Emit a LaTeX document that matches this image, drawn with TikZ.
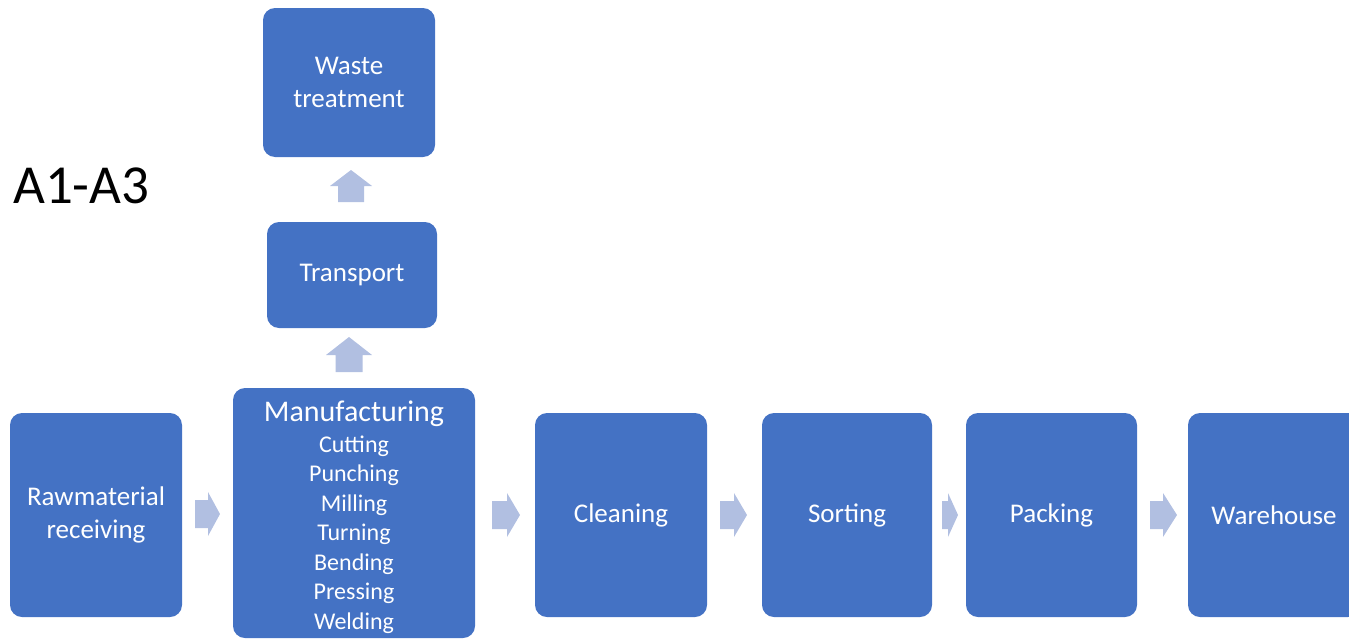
\documentclass[tikz,border=0pt]{standalone}
\usepackage{fontspec}
\setmainfont{Carlito}
\definecolor{boxblue}{HTML}{4472C4}
\definecolor{arrowblue}{HTML}{B1BFE1}
\newcommand{\harrowshape}[5]{% name, x1, xh, x2, yc
  \fill[arrowblue] (#2,#5-14) -- (#3,#5-14) -- (#3,#5-22) -- (#4,#5) -- (#3,#5+22) -- (#3,#5+14) -- (#2,#5+14) -- cycle;
  \coordinate (#1) at ({(#2+#4)/2},#5);}
\newcommand{\varrowshape}[7]{% name, xc, half head, half shaft, ytip, ybase, ybottom
  \fill[arrowblue] (#2-#4,#7) -- (#2-#4,#6) -- (#2-#3,#6) -- (#2,#5) -- (#2+#3,#6) -- (#2+#4,#6) -- (#2+#4,#7) -- cycle;
  \coordinate (#1) at (#2,{(#5+#7)/2});}
\tikzset{
  procbox/.style={fill=boxblue, rounded corners=12pt, text=white, align=center,
    font=\fontsize{27}{33}\selectfont, inner sep=0pt},
}
\begin{document}
\begin{tikzpicture}[x=1pt,y=-1pt]
\useasboundingbox (0,0) rectangle (1349,640);
\begin{scope}
\clip (0,0) rectangle (1349,640);
\node[procbox, minimum width=172pt, minimum height=204pt] (raw) at (96,515) {Rawmaterial\\receiving};
\node[procbox, minimum width=242pt, minimum height=250pt] (man) at (354,513) {};
\node[procbox, minimum width=172pt, minimum height=204pt] (clean) at (621,515) {Cleaning};
\node[procbox, minimum width=170pt, minimum height=204pt] (sort) at (847,515) {Sorting};
\node[procbox, minimum width=171pt, minimum height=204pt] (pack) at (1051.5,515) {Packing};
\node[procbox, minimum width=172pt, minimum height=204pt] (ware) at (1274,515) {Warehouse};
\node[procbox, minimum width=170pt, minimum height=106pt] (trans) at (352,275) {Transport};
\node[procbox, minimum width=172pt, minimum height=149pt] (waste) at (349,82.5) {Waste\\treatment};
\end{scope}
\node[text=white, align=center, inner sep=0pt, anchor=north, font=\fontsize{24}{29.5}\selectfont] (mantext) at (354,401)
  {{\fontsize{30}{34}\selectfont Manufacturing}\\[1pt]
   Cutting\\Punching\\Milling\\Turning\\Bending\\Pressing\\Welding};
\node[anchor=base west, inner sep=0pt, font=\fontsize{55}{60}\selectfont] (title) at (13,203) {A1-A3};
\harrowshape{a1}{195}{208}{220}{514}
\harrowshape{a2}{492}{507}{520}{515}
\harrowshape{a3}{720}{734}{747}{515}
\harrowshape{a4}{942}{948}{958}{515}
\harrowshape{a5}{1150}{1163}{1177}{515}
\varrowshape{u1}{349}{23}{13.5}{337}{355}{372}
\varrowshape{u2}{351}{21}{13}{170}{186}{202}
\end{tikzpicture}
\end{document}
